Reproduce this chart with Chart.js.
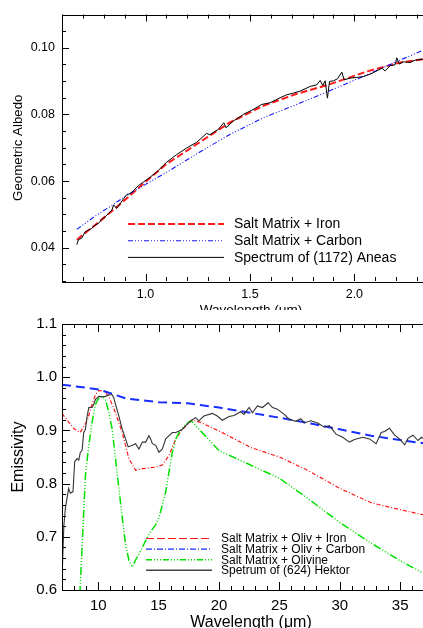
<!DOCTYPE html>
<html>
<head>
<meta charset="utf-8">
<title>Albedo and emissivity</title>
<script src="https://cdn.jsdelivr.net/npm/chart.js@4.4.1/dist/chart.umd.min.js"></script>
<style>
    html, body { margin: 0; padding: 0; background: #fff; overflow: hidden; }
    #wrap { position: relative; width: 423px; height: 628px; overflow: hidden; }
    #albedoChart { position: absolute; left: 0; top: 0; width: 440px; height: 318px; }
    #emisChart { position: absolute; left: 0; top: 310px; width: 440px; height: 322px; background: #fff; }
</style>
</head>
<body>
<div id="wrap">
    <canvas id="albedoChart" width="440" height="318"></canvas>
    <canvas id="emisChart" width="440" height="322"></canvas>
</div>
<script>
// ---- top panel: geometric albedo vs wavelength (um) ----
const topLabels = ['Salt Matrix + Iron', 'Salt Matrix + Carbon', 'Spectrum of (1172) Aneas'];
const topXTicks = [1.0, 1.5, 2.0];
const topYTicks = [0.04, 0.06, 0.08, 0.10];

const ironWl = [0.671, 0.759, 0.839, 0.919, 1.0, 1.1, 1.27, 1.404, 1.564, 1.724, 1.875, 2.06, 2.219, 2.345];
const ironAlb = [0.0424, 0.0468, 0.0510, 0.0553, 0.0598, 0.0651, 0.0721, 0.0776, 0.0826, 0.0862, 0.0889, 0.0929, 0.0956, 0.0967];

const carbonWl = [0.671, 0.759, 0.839, 0.91, 1.0, 1.1, 1.27, 1.404, 1.564, 1.724, 1.875, 2.06, 2.219, 2.345];
const carbonAlb = [0.0455, 0.0495, 0.0527, 0.0557, 0.0590, 0.0626, 0.0691, 0.0740, 0.0790, 0.0830, 0.0869, 0.0919, 0.0963, 0.0997];

const aneasWl = [0.671, 0.679, 0.695, 0.711, 0.727, 0.743, 0.759, 0.775, 0.791, 0.807, 0.823, 0.839, 0.847, 0.863,
    0.879, 0.895, 0.911, 0.927, 0.943, 0.967, 0.990, 1.022, 1.053, 1.100, 1.148, 1.196, 1.244, 1.292, 1.308,
    1.348, 1.375, 1.385, 1.420, 1.468, 1.516, 1.556, 1.596, 1.644, 1.676, 1.708, 1.740, 1.788, 1.820, 1.836,
    1.849, 1.860, 1.871, 1.881, 1.900, 1.919, 1.940, 1.951, 1.980, 2.012, 2.044, 2.076, 2.108, 2.132, 2.147,
    2.171, 2.195, 2.203, 2.215, 2.235, 2.267, 2.291, 2.330, 2.345];
const aneasAlb = [0.0409, 0.0424, 0.0429, 0.0448, 0.0453, 0.0458, 0.0468, 0.0473, 0.0485, 0.0493, 0.0503, 0.0513, 0.0528, 0.0518,
    0.0533, 0.0547, 0.0560, 0.0562, 0.0572, 0.0587, 0.0597, 0.0612, 0.0627, 0.0656, 0.0679, 0.0699, 0.0716, 0.0743, 0.0739,
    0.0755, 0.0775, 0.0760, 0.0780, 0.0800, 0.0815, 0.0830, 0.0835, 0.0850, 0.0859, 0.0864, 0.0870, 0.0884, 0.0889, 0.0902,
    0.0887, 0.0901, 0.0849, 0.0899, 0.0901, 0.0907, 0.0927, 0.0904, 0.0909, 0.0911, 0.0914, 0.0921, 0.0931, 0.0939, 0.0931,
    0.0946, 0.0949, 0.0970, 0.0951, 0.0958, 0.0956, 0.0963, 0.0966, 0.0967];

// ---- bottom panel: emissivity vs wavelength (um) ----
const bottomLabels = ['Salt Matrix + Oliv + Iron', 'Salt Matrix + Oliv + Carbon', 'Salt Matrix + Olivine', 'Spetrum of (624) Hektor'];
const bottomXTicks = [10, 15, 20, 25, 30, 35];
const bottomYTicks = [0.6, 0.7, 0.8, 0.9, 1.0, 1.1];

const olivIronWl = [7.0, 7.4, 8.0, 8.5, 9.08, 9.5, 9.77, 10.05, 10.5, 10.88, 11.43, 11.99, 12.54, 13.09, 13.65, 14.76,
    15.31, 15.86, 16.42, 16.97, 17.8, 18.47, 20.0, 22.63, 25.0, 27.34, 30.0, 32.6, 35.0, 37.2];
const olivIronEm = [0.932, 0.920, 0.903, 0.896, 0.918, 0.950, 0.967, 0.975, 0.974, 0.964, 0.933, 0.896, 0.847, 0.825, 0.828, 0.831,
    0.835, 0.853, 0.884, 0.902, 0.920, 0.915, 0.899, 0.868, 0.850, 0.825, 0.791, 0.764, 0.751, 0.740];

const olivCarbonWl = [7.0, 10.05, 12.3, 15.0, 17.4, 20.0, 22.6, 25.0, 27.6, 30.0, 32.6, 35.0, 37.2];
const olivCarbonEm = [0.986, 0.977, 0.960, 0.953, 0.951, 0.943, 0.933, 0.924, 0.913, 0.902, 0.890, 0.882, 0.875];

const olivineWl = [8.2, 8.52, 8.94, 9.22, 9.49, 9.77, 10.05, 10.32, 10.60, 10.88, 11.16, 11.43, 11.71, 11.99, 12.26, 12.54,
    12.82, 13.09, 13.65, 14.20, 14.76, 15.03, 15.31, 15.59, 15.86, 16.14, 16.42, 16.70, 17.25, 17.7, 20.0, 22.6,
    25.0, 27.3, 30.0, 32.6, 35.0, 37.2];
const olivineEm = [0.45, 0.612, 0.816, 0.872, 0.915, 0.949, 0.961, 0.964, 0.958, 0.933, 0.902, 0.847, 0.791, 0.736, 0.686, 0.656,
    0.643, 0.656, 0.680, 0.705, 0.723, 0.736, 0.760, 0.785, 0.822, 0.859, 0.884, 0.896, 0.912, 0.918, 0.862, 0.835,
    0.810, 0.773, 0.727, 0.688, 0.655, 0.628];

const hektorWl = [7.0, 7.15, 7.28, 7.55, 7.69, 7.91, 8.05, 8.25, 8.39, 8.52, 8.66, 8.80, 8.94, 9.08, 9.22, 9.49, 9.63, 9.77,
    10.05, 10.32, 10.60, 10.88, 11.16, 11.29, 11.43, 11.71, 11.99, 12.26, 12.48, 12.82, 13.09, 13.37, 13.65, 13.93,
    14.20, 14.34, 14.48, 14.76, 15.03, 15.31, 15.59, 15.86, 16.14, 16.42, 16.70, 16.97, 17.25, 17.64, 18.06, 18.33,
    18.75, 19.44, 19.86, 20.27, 20.83, 21.24, 21.80, 22.07, 22.49, 22.77, 23.18, 23.60, 24.07, 24.43, 24.84, 25.40,
    25.81, 26.37, 26.78, 27.06, 27.61, 28.17, 28.72, 29.14, 29.69, 30.24, 30.80, 31.21, 31.91, 32.46, 33.01, 33.43,
    33.71, 34.12, 34.54, 34.95, 35.37, 35.65, 36.06, 36.48, 36.76, 37.2];
const hektorEm = [0.62, 0.72, 0.754, 0.791, 0.782, 0.785, 0.841, 0.847, 0.844, 0.859, 0.862, 0.896, 0.902, 0.927, 0.943, 0.943, 0.949, 0.958,
    0.964, 0.963, 0.964, 0.967, 0.967, 0.961, 0.949, 0.927, 0.902, 0.884, 0.869, 0.872, 0.875, 0.865, 0.878, 0.878,
    0.890, 0.884, 0.875, 0.872, 0.859, 0.865, 0.884, 0.890, 0.896, 0.896, 0.899, 0.902, 0.909, 0.918, 0.924, 0.918,
    0.927, 0.932, 0.927, 0.919, 0.926, 0.928, 0.935, 0.930, 0.943, 0.933, 0.946, 0.943, 0.952, 0.943, 0.940, 0.930,
    0.921, 0.917, 0.922, 0.914, 0.918, 0.914, 0.906, 0.909, 0.893, 0.887, 0.878, 0.883, 0.887, 0.884, 0.875, 0.896,
    0.898, 0.904, 0.891, 0.884, 0.873, 0.885, 0.891, 0.881, 0.887, 0.880];

const FONT = '"Liberation Sans", Arial, Helvetica, sans-serif';
Chart.defaults.font.family = FONT;
Chart.defaults.color = '#000';

function pts(xs, ys) {
    return xs.map((x, i) => ({ x: x, y: ys[i] }));
}

// inward tick marks on all four sides plus the frame (IDL look)
const frameTicks = {
    id: 'frameTicks',
    afterDatasetsDraw(chart, args, opts) {
        const { ctx, chartArea: a } = chart;
        const xs = chart.scales.x, ys = chart.scales.y;
        ctx.save();
        ctx.strokeStyle = '#000';
        ctx.lineWidth = 1;
        ctx.setLineDash([]);
        ctx.strokeRect(Math.round(a.left) + 0.5, Math.round(a.top) + 0.5,
            Math.round(a.right - a.left), Math.round(a.bottom - a.top));

        const each = (scale, minor, major, fn) => {
            const start = Math.ceil(scale.min / minor - 1e-6);
            const stop = Math.floor(scale.max / minor + 1e-6);
            for (let i = start; i <= stop; i++) {
                const v = i * minor;
                const r = v / major;
                const isMajor = Math.abs(r - Math.round(r)) < 1e-6;
                fn(Math.round(scale.getPixelForValue(v)) + 0.5, isMajor ? opts.majorLen : opts.minorLen);
            }
        };
        ctx.beginPath();
        each(xs, opts.xMinor, opts.xMajor, (p, len) => {
            ctx.moveTo(p, a.bottom); ctx.lineTo(p, a.bottom - len);
            ctx.moveTo(p, a.top); ctx.lineTo(p, a.top + len);
        });
        each(ys, opts.yMinor, opts.yMajor, (p, len) => {
            ctx.moveTo(a.left, p); ctx.lineTo(a.left + len, p);
            ctx.moveTo(a.right, p); ctx.lineTo(a.right - len, p);
        });
        ctx.stroke();
        ctx.restore();
    }
};

// legend drawn inside the plot box
const inLegend = {
    id: 'inLegend',
    afterDraw(chart, args, opts) {
        const ctx = chart.ctx;
        chart.data.datasets.forEach((ds, i) => {
            const st = opts.styles[i];
            const y = opts.y + i * opts.rowGap;
            ctx.save();
            ctx.strokeStyle = st.color;
            ctx.lineWidth = st.width;
            ctx.setLineDash(st.dash);
            ctx.beginPath();
            ctx.moveTo(opts.x0, y);
            ctx.lineTo(opts.x1, y);
            ctx.stroke();
            ctx.restore();
            ctx.save();
            ctx.fillStyle = '#000';
            ctx.font = opts.fontSize + 'px ' + FONT;
            ctx.textBaseline = 'middle';
            ctx.fillText(ds.label, opts.textX, y + 0.5);
            ctx.restore();
        });
    }
};

function axisX(min, max, ticks, fmt, tickSize, pad, title, titleSize, height) {
    return {
        type: 'linear', min: min, max: max,
        grid: { display: false, drawTicks: false }, border: { display: false },
        afterBuildTicks: s => { s.ticks = ticks.map(v => ({ value: v })); },
        afterFit: s => { s.height = height; },
        ticks: { font: { size: tickSize }, color: '#000', padding: pad, maxRotation: 0, callback: fmt },
        title: { display: true, text: title, font: { size: titleSize }, color: '#000', padding: { top: 0, bottom: 0 } }
    };
}

function axisY(min, max, ticks, fmt, tickSize, pad, title, titleSize, titlePad) {
    return {
        type: 'linear', min: min, max: max,
        grid: { display: false, drawTicks: false }, border: { display: false },
        afterBuildTicks: s => { s.ticks = ticks.map(v => ({ value: v })); },
        afterFit: s => { s.width = 62; },
        ticks: { font: { size: tickSize }, color: '#000', padding: pad, callback: fmt },
        title: { display: true, text: title, font: { size: titleSize }, color: '#000', padding: { top: titlePad, bottom: 0 } }
    };
}

new Chart(document.getElementById('albedoChart'), {
    type: 'line',
    data: {
        datasets: [{
            label: topLabels[0],
            data: pts(ironWl, ironAlb),
            borderColor: 'rgb(255, 25, 25)', borderWidth: 2, borderDash: [7, 3],
            pointRadius: 0, fill: false, order: 2
        }, {
            label: topLabels[1],
            data: pts(carbonWl, carbonAlb),
            borderColor: 'rgb(20, 20, 255)', borderWidth: 1.1, borderDash: [5, 2, 1, 2, 1, 2, 1, 2],
            pointRadius: 0, fill: false, order: 1
        }, {
            label: topLabels[2],
            data: pts(aneasWl, aneasAlb),
            borderColor: '#000', borderWidth: 1,
            pointRadius: 0, fill: false, order: 0
        }]
    },
    options: {
        responsive: false,
        animation: false,
        layout: { padding: { top: 13, right: 0, bottom: 0, left: 0 } },
        plugins: {
            legend: { display: false },
            tooltip: { enabled: false },
            frameTicks: { xMinor: 0.1, xMajor: 0.5, yMinor: 0.005, yMajor: 0.02, majorLen: 7, minorLen: 4 },
            inLegend: {
                x0: 128, x1: 224, textX: 234, y: 224, rowGap: 16.7, fontSize: 14,
                styles: [
                    { color: 'rgb(255, 25, 25)', width: 2, dash: [7, 3] },
                    { color: 'rgb(20, 20, 255)', width: 1.1, dash: [5, 2, 1, 2, 1, 2, 1, 2] },
                    { color: '#000', width: 1, dash: [] }
                ]
            }
        },
        scales: {
            x: axisX(0.6, 2.41, topXTicks, v => v.toFixed(1), 12.5, 6, 'Wavelength (\u03bcm)', 13.5, 37),
            y: axisY(0.03, 0.11, topYTicks, v => v.toFixed(2), 12.5, 7, 'Geometric Albedo', 13.3, 10)
        }
    },
    plugins: [frameTicks, inLegend]
});

new Chart(document.getElementById('emisChart'), {
    type: 'line',
    data: {
        datasets: [{
            label: bottomLabels[0],
            data: pts(olivIronWl, olivIronEm),
            borderColor: 'rgb(255, 20, 20)', borderWidth: 1.2, borderDash: [4, 2, 1, 2],
            pointRadius: 0, fill: false, order: 3
        }, {
            label: bottomLabels[1],
            data: pts(olivCarbonWl, olivCarbonEm),
            borderColor: 'rgb(25, 45, 255)', borderWidth: 2, borderDash: [9, 5],
            pointRadius: 0, fill: false, order: 1
        }, {
            label: bottomLabels[2],
            data: pts(olivineWl, olivineEm),
            borderColor: 'rgb(0, 225, 0)', borderWidth: 1.5, borderDash: [8, 2, 1, 2, 1, 2, 1, 2],
            pointRadius: 0, fill: false, order: 2
        }, {
            label: bottomLabels[3],
            data: pts(hektorWl, hektorEm),
            borderColor: '#333', borderWidth: 1.1,
            pointRadius: 0, fill: false, order: 0
        }]
    },
    options: {
        responsive: false,
        animation: false,
        layout: { padding: { top: 10, right: 0, bottom: 0, left: 0 } },
        plugins: {
            legend: { display: false },
            tooltip: { enabled: false },
            frameTicks: { xMinor: 1, xMajor: 5, yMinor: 0.02, yMajor: 0.1, majorLen: 8, minorLen: 4 },
            inLegend: {
                x0: 146, x1: 212, textX: 221, y: 228.5, rowGap: 10.6, fontSize: 12,
                styles: [
                    { color: 'rgb(255, 20, 20)', width: 1.2, dash: [8, 3] },
                    { color: 'rgb(25, 45, 255)', width: 1.2, dash: [6, 2, 1, 2] },
                    { color: 'rgb(0, 225, 0)', width: 1.5, dash: [6, 2, 1, 2, 1, 2, 1, 2] },
                    { color: '#444', width: 1.6, dash: [] }
                ]
            }
        },
        scales: {
            x: axisX(7, 38.3, bottomXTicks, v => String(v), 15, 7, 'Wavelength (\u03bcm)', 16, 42),
            y: axisY(0.6, 1.1, bottomYTicks, v => v.toFixed(1), 15, 5, 'Emissivity', 16, 9)
        }
    },
    plugins: [frameTicks, inLegend]
});
</script>
</body>
</html>
